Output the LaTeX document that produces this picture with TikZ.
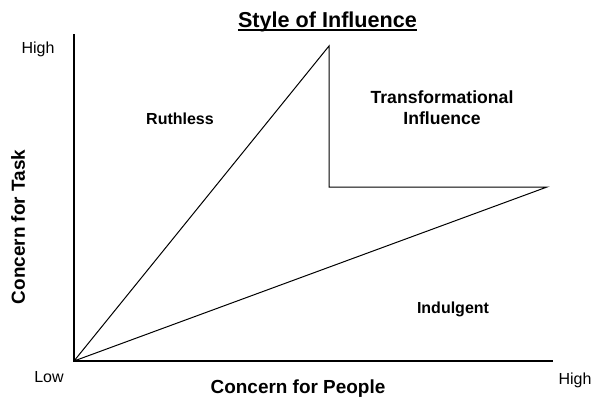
\documentclass[tikz,border=0pt]{standalone}
\usepackage{fontspec}
\setmainfont{Liberation Sans}
\usetikzlibrary{positioning}

\begin{document}
\begin{tikzpicture}[x=0.75pt,y=-0.75pt,
	axis/.style={line width=1.1pt, line cap=rect},
	border/.style={line width=0.75pt, line join=miter},
	region/.style={font=\fontsize{12}{14}\selectfont\bfseries, align=center, inner sep=0pt},
	axislabel/.style={font=\fontsize{14.2}{16}\selectfont\bfseries, inner sep=0pt},
	level/.style={font=\fontsize{12}{14}\selectfont, inner sep=0pt},
	heading/.style={font=\fontsize{16.2}{19}\selectfont\bfseries, inner xsep=0pt, inner ysep=0pt}
	] % End Creating Quadrant Pieces
\useasboundingbox (0,0) rectangle (592,404);

% axes and corners
\coordinate (o)    at (74,361);
\coordinate (ytop) at (74,35);
\coordinate (xend) at (552,361);
\coordinate (peak) at (329,46);
\coordinate (knee) at (329,187);
\coordinate (rend) at (547,187);

\node [heading, anchor=base] (title) at (327.5,27) {Style of Influence};
\draw [line width=1.5pt] ([yshift=-2.6pt]title.base west) -- ([yshift=-2.6pt]title.base east);

\node [level] (hiy) at (38,49)  {High};
\node [level] (loxy) at (49,377) {Low};
\node [level] (hix) at (575,380) {High};

\node [axislabel] (people) at (298,389) {Concern for People};
\node [axislabel, rotate=90] (task) at (18,227) {Concern for Task};

\node [region] (ruth)  at (180,119) {Ruthless};
\node [region, font=\fontsize{13.2}{16}\selectfont\bfseries] (trans) at (442,108) {Transformational\\Influence};
\node [region] (indul) at (453,309) {Indulgent};

\draw [axis] (ytop) -- (o) -- (xend);

\draw [border] (o) -- (peak) -- (knee) -- (rend) -- (o);
\end{tikzpicture}
\end{document}
